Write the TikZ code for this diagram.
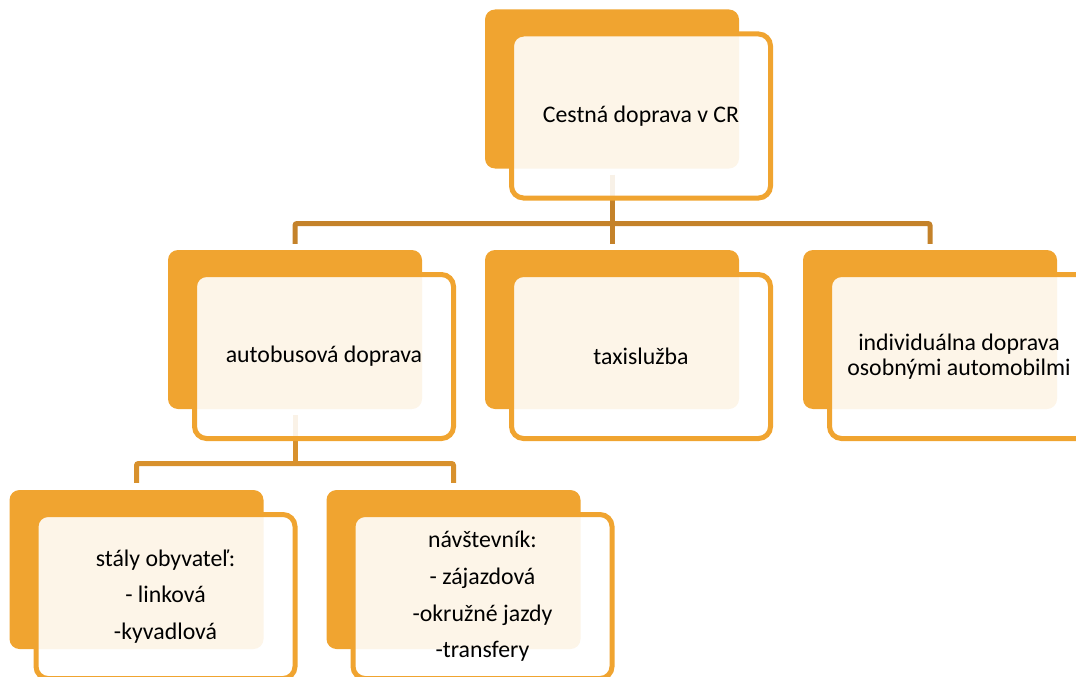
\documentclass[tikz,border=0pt]{standalone}
\usepackage{fontspec}
\setmainfont{Carlito}
\definecolor{org}{HTML}{F0A430}
\definecolor{conA}{HTML}{C4822A}
\definecolor{conB}{HTML}{D8912D}
\tikzset{
  backbox/.style={rectangle, fill=org, minimum width=254pt, minimum height=159pt, rounded corners=10pt, inner sep=0pt},
  frontbox/.style={rectangle, draw=org, line width=5pt, fill=white, fill opacity=0.89, text opacity=1, minimum width=259pt, minimum height=164pt, rounded corners=12pt, align=center, font=\fontsize{23.8}{25}\selectfont, inner sep=2pt},
  listtext/.style={font=\fontsize{23.8}{36.7}\selectfont},
  conn/.style={line width=5pt, rounded corners=2pt}
}
\begin{document}
\begin{tikzpicture}[x=1pt,y=-1pt]
\useasboundingbox (0,0) rectangle (1076,677);
\clip (0,0) rectangle (1076,677);
% back boxes
\node[backbox] (topB) at (612,89) {};
\node[backbox] (autB) at (295,329.5) {};
\node[backbox] (taxB) at (612,329.5) {};
\node[backbox] (indB) at (930,329.5) {};
\node[backbox] (staB) at (136.5,569.5) {};
\node[backbox] (navB) at (453.5,569.5) {};
% connectors
\coordinate (j1) at (612,223.5);
\coordinate (j2) at (295,463.5);
\draw[conn,conA] ([yshift=-6pt]topB.south) -- (j1);
\draw[conn,conA] ([yshift=6pt]autB.north) |- (j1) -| ([yshift=6pt]indB.north);
\draw[conn,conA] (j1) -- ([yshift=6pt]taxB.north);
\draw[conn,conB] ([yshift=-6pt]autB.south) -- (j2);
\draw[conn,conB] ([yshift=7pt]staB.north) |- (j2) -| ([yshift=7pt]navB.north);
% front boxes
\node[frontbox] (topF) at (641,116) {Cestná doprava v CR};
\node[frontbox] (autF) at (324,356.5) {autobusová doprava};
\node[frontbox] (taxF) at (641,356.5) {taxislužba};
\node[frontbox] (indF) at (959,356.5) {individuálna doprava\\osobnými automobilmi};
\node[frontbox,listtext] (staF) at (165.5,596.5) {stály obyvateľ:\\- linková\\-kyvadlová};
\node[frontbox,listtext] (navF) at (482.5,596.5) {návštevník:\\- zájazdová\\-okružné jazdy\\-transfery};
\end{tikzpicture}
\end{document}
